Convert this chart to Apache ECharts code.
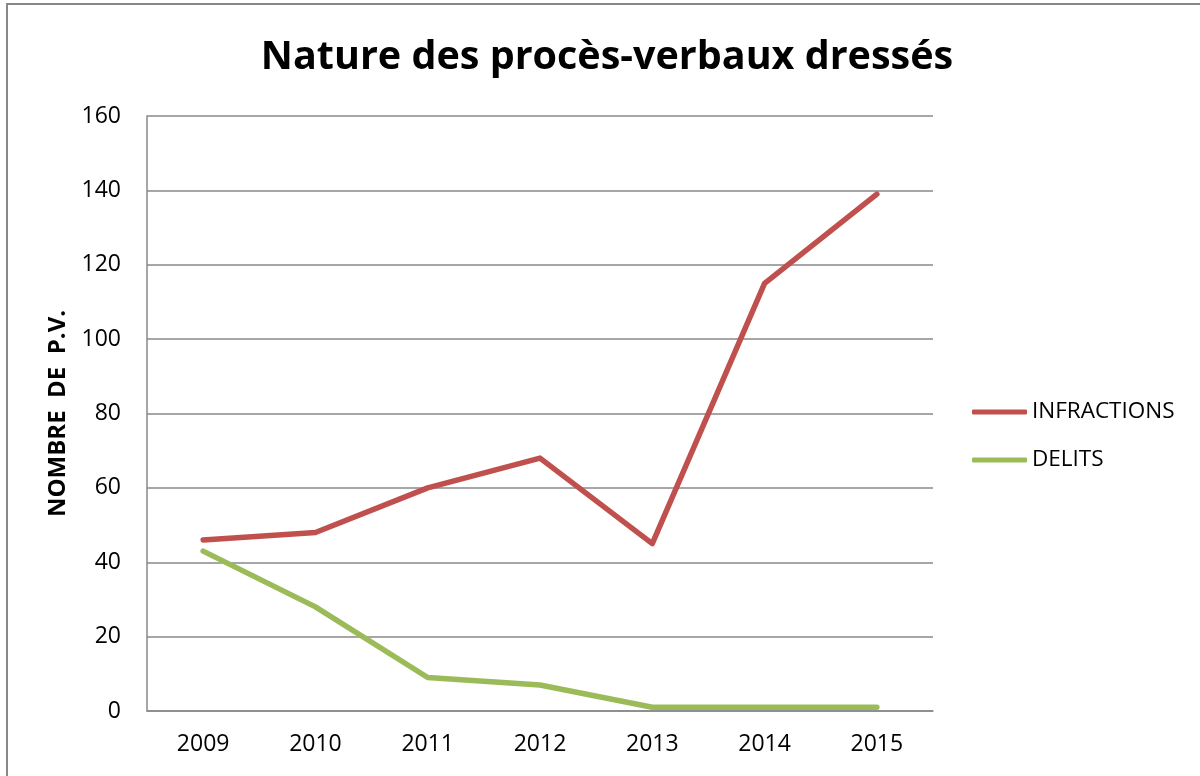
<!DOCTYPE html>
<html>
<head>
<meta charset="utf-8">
<script src="https://cdn.jsdelivr.net/npm/echarts@6/dist/echarts.min.js"></script>
<style>
html, body { margin: 0; padding: 0; background: #fff; }
#chart { width: 1200px; height: 776px; }
</style>
</head>
<body>
<div id="chart"></div>
<script>
var years = ['2009', '2010', '2011', '2012', '2013', '2014', '2015'];
var infractions = [46, 48, 60, 68, 45, 115, 139];
var delits = [43, 28, 9, 7, 1, 1, 1];
var yTicks = { min: 0, max: 160, interval: 20 };

var chart = echarts.init(document.getElementById('chart'), null, { renderer: 'canvas' });
var font = '"Open Sans", Lato, sans-serif';

var option = {
    backgroundColor: '#fff',
    animation: false,
    title: {
        text: 'Nature des procès-verbaux dressés',
        left: 602,
        top: 33,
        textAlign: 'center',
        textStyle: { fontFamily: font, fontSize: 39.5, fontWeight: 'bold', color: '#000' }
    },
    graphic: [
        { // cadre du graphique
            type: 'rect',
            shape: { x: 7, y: 4, width: 1300, height: 900 },
            style: { fill: 'none', stroke: '#888', lineWidth: 2 },
            silent: true
        }
    ],
    legend: {
        orient: 'vertical',
        left: 967,
        top: 395,
        itemWidth: 55,
        itemHeight: 5,
        itemGap: 24,
        icon: 'roundRect',
        textStyle: { fontFamily: font, fontSize: 22.5, lineHeight: 24, color: '#000', padding: [0, 0, 0, 0] },
        data: ['INFRACTIONS', 'DELITS']
    },
    grid: { left: 147, right: 267, top: 116, bottom: 65 },
    xAxis: {
        type: 'category',
        data: years,
        boundaryGap: true,
        axisLine: { lineStyle: { color: '#888', width: 1.5 } },
        axisTick: { show: false },
        axisLabel: { fontFamily: font, fontSize: 23, color: '#000', margin: 22 }
    },
    yAxis: {
        type: 'value',
        min: yTicks.min,
        max: yTicks.max,
        interval: yTicks.interval,
        name: 'NOMBRE  DE  P.V.',
        nameLocation: 'middle',
        nameGap: 76,
        nameTextStyle: { fontFamily: font, fontSize: 24, fontWeight: 'bold', color: '#000' },
        axisLine: { show: true, lineStyle: { color: '#888', width: 1.5 } },
        axisTick: { show: false },
        splitLine: { lineStyle: { color: '#888', width: 1.5 } },
        axisLabel: { fontFamily: font, fontSize: 23, color: '#000', margin: 26 }
    },
    series: [
        {
            name: 'INFRACTIONS',
            type: 'line',
            data: infractions,
            symbol: 'none',
            lineStyle: { color: '#c0504d', width: 5.5, cap: 'round', join: 'round' },
            itemStyle: { color: '#c0504d' }
        },
        {
            name: 'DELITS',
            type: 'line',
            data: delits,
            symbol: 'none',
            lineStyle: { color: '#9bbb59', width: 5.5, cap: 'round', join: 'round' },
            itemStyle: { color: '#9bbb59' }
        }
    ]
};
chart.setOption(option);
</script>
</body>
</html>
